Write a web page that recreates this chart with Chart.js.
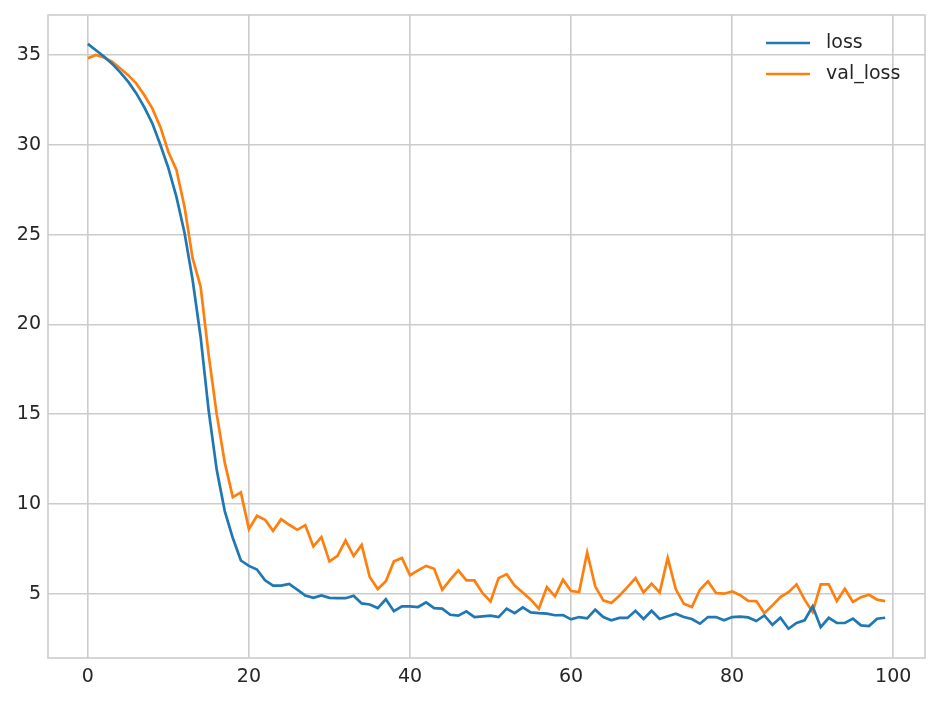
<!DOCTYPE html>
<html>
<head>
<meta charset="utf-8">
<script src="https://cdn.jsdelivr.net/npm/chart.js@4/dist/chart.umd.min.js"></script>
<style>
  html, body { margin: 0; padding: 0; background: #ffffff; }
  #wrap { width: 940px; height: 701px; position: relative; }
</style>
</head>
<body>
<div id="wrap"><canvas id="loss-chart"></canvas></div>
<script>
// valores (epocas 0..99)
const lossValues = [
    35.62, 35.27, 34.92, 34.52, 34.05, 33.52, 32.88, 32.10, 31.20, 30.00,
    28.70, 27.10, 25.10, 22.50, 19.30, 15.20, 11.90, 9.60, 8.10, 6.85,
    6.55, 6.35, 5.75, 5.45, 5.45, 5.55, 5.23, 4.90, 4.77, 4.90,
    4.77, 4.75, 4.75, 4.89, 4.46, 4.40, 4.20, 4.69, 4.03, 4.30,
    4.30, 4.26, 4.52, 4.20, 4.17, 3.83, 3.78, 4.02, 3.70, 3.74,
    3.78, 3.70, 4.17, 3.92, 4.24, 3.96, 3.92, 3.89, 3.80, 3.81,
    3.57, 3.70, 3.63, 4.11, 3.70, 3.52, 3.65, 3.65, 4.05, 3.59,
    4.05, 3.59, 3.74, 3.89, 3.70, 3.59, 3.33, 3.70, 3.70, 3.52,
    3.70, 3.72, 3.68, 3.48, 3.79, 3.27, 3.66, 3.05, 3.37, 3.52,
    4.30, 3.14, 3.66, 3.37, 3.37, 3.61, 3.24, 3.20, 3.61, 3.66
];
const valLossValues = [
    34.82, 35.00, 34.86, 34.63, 34.26, 33.88, 33.42, 32.77, 32.03, 31.00,
    29.60, 28.60, 26.55, 23.70, 22.10, 18.30, 15.00, 12.30, 10.38, 10.64,
    8.60, 9.34, 9.12, 8.50, 9.15, 8.84, 8.56, 8.82, 7.63, 8.15,
    6.80, 7.11, 7.97, 7.10, 7.72, 5.93, 5.26, 5.70, 6.80, 6.99,
    6.03, 6.30, 6.55, 6.39, 5.22, 5.78, 6.30, 5.74, 5.74, 5.04,
    4.57, 5.87, 6.09, 5.45, 5.07, 4.67, 4.17, 5.37, 4.85, 5.78,
    5.15, 5.09, 7.30, 5.41, 4.63, 4.48, 4.89, 5.37, 5.87, 5.07,
    5.56, 5.07, 6.99, 5.26, 4.44, 4.26, 5.22, 5.69, 5.04, 5.00,
    5.13, 4.92, 4.60, 4.59, 3.92, 4.35, 4.81, 5.09, 5.52, 4.67,
    3.98, 5.52, 5.52, 4.59, 5.28, 4.54, 4.81, 4.94, 4.67, 4.59
];
const epochs = lossValues.map((v, i) => i);
const xTicks = [0, 20, 40, 60, 80, 100];
const yTicks = [5, 10, 15, 20, 25, 30, 35];
const seriesNames = ['loss', 'val_loss'];

const gridColor = '#cccccc';
const textColor = '#262626';
const tickFont = { family: 'DejaVu Sans', size: 19 };

// marco alrededor del area del grafico (estilo whitegrid)
const framePlugin = {
    id: 'frame',
    beforeDatasetsDraw(chart) {
        const a = chart.chartArea;
        const ctx = chart.ctx;
        ctx.save();
        ctx.strokeStyle = gridColor;
        ctx.lineWidth = 1.6;
        ctx.strokeRect(a.left, a.top, a.right - a.left, a.bottom - a.top);
        ctx.restore();
    }
};

// leyenda sin borde en la esquina superior derecha
const legendPlugin = {
    id: 'innerLegend',
    afterDatasetsDraw(chart) {
        const a = chart.chartArea;
        const ctx = chart.ctx;
        ctx.save();
        ctx.font = '19px "DejaVu Sans"';
        ctx.textBaseline = 'middle';
        ctx.textAlign = 'left';
        chart.data.datasets.forEach((ds, i) => {
            const y = a.top + 28 + i * 31;
            ctx.strokeStyle = ds.borderColor;
            ctx.lineWidth = 2.7;
            ctx.beginPath();
            ctx.moveTo(a.right - 159, y);
            ctx.lineTo(a.right - 115, y);
            ctx.stroke();
            ctx.fillStyle = textColor;
            ctx.fillText(ds.label, a.right - 99, y);
        });
        ctx.restore();
    }
};

new Chart(document.getElementById('loss-chart'), {
    type: 'line',
    data: {
        datasets: [
            {
                label: seriesNames[0],
                data: epochs.map((e, i) => ({ x: e, y: lossValues[i] })),
                borderColor: '#1f77b4',
                borderWidth: 2.7,
                pointRadius: 0,
                tension: 0,
                fill: false
            },
            {
                label: seriesNames[1],
                data: epochs.map((e, i) => ({ x: e, y: valLossValues[i] })),
                borderColor: '#ff7f0e',
                borderWidth: 2.7,
                pointRadius: 0,
                tension: 0,
                fill: false
            }
        ]
    },
    options: {
        responsive: true,
        maintainAspectRatio: false,
        animation: false,
        layout: { padding: { top: 15, right: 15, left: 0, bottom: 0 } },
        plugins: {
            legend: { display: false },
            tooltip: { enabled: false }
        },
        scales: {
            x: {
                type: 'linear',
                min: -4.95,
                max: 103.95,
                afterBuildTicks: (scale) => { scale.ticks = xTicks.map(v => ({ value: v })); },
                afterFit: (scale) => {
                    scale.height = 43;
                    scale.paddingLeft = 0;
                    scale.paddingRight = 0;
                },
                grid: { color: gridColor, lineWidth: 1.6, drawTicks: false },
                border: { display: false },
                ticks: { color: textColor, font: tickFont, padding: 8, maxRotation: 0 }
            },
            y: {
                type: 'linear',
                min: 1.42,
                max: 37.23,
                afterBuildTicks: (scale) => { scale.ticks = yTicks.map(v => ({ value: v })); },
                afterFit: (scale) => {
                    scale.width = 48;
                    scale.paddingTop = 0;
                    scale.paddingBottom = 0;
                },
                grid: { color: gridColor, lineWidth: 1.6, drawTicks: false },
                border: { display: false },
                ticks: { color: textColor, font: tickFont, padding: 7 }
            }
        }
    },
    plugins: [framePlugin, legendPlugin]
});
</script>
</body>
</html>
